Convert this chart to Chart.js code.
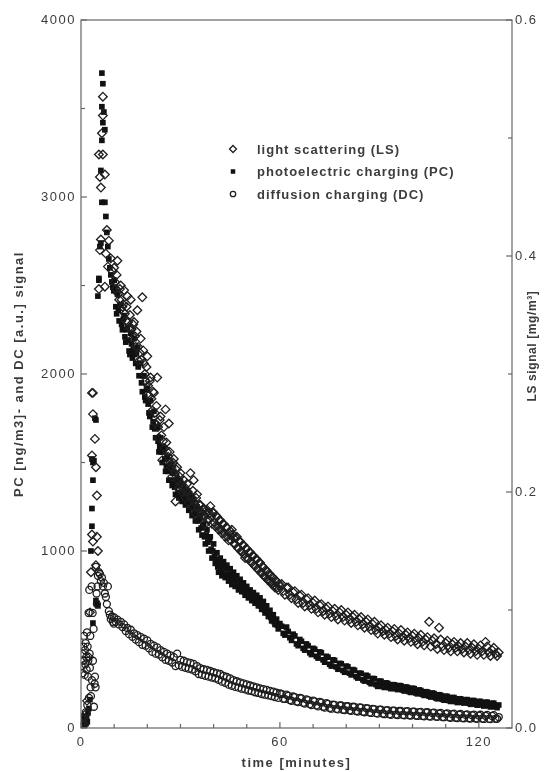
<!DOCTYPE html>
<html>
<head>
<meta charset="utf-8">
<script src="https://cdn.jsdelivr.net/npm/chart.js@4.4.0/dist/chart.umd.min.js"></script>
<style>
  html, body { margin: 0; padding: 0; background: #fff; }
</style>
</head>
<body>
<canvas id="chart" width="544" height="772"></canvas>
<script>
// tick positions and labels
const xTicks = [0, 10, 20, 30, 40, 50, 60, 70, 80, 90, 100, 110, 120];
const xLabels = [0, 60, 120];
const leftTicks = [0, 500, 1000, 1500, 2000, 2500, 3000, 3500, 4000];
const leftLabels = [0, 1000, 2000, 3000, 4000];
const rightTicks = [0, 0.1, 0.2, 0.3, 0.4, 0.5, 0.6];
const rightLabels = [0, 0.2, 0.4, 0.6];

const seriesNames = ['light scattering (LS)', 'photoelectric charging (PC)', 'diffusion charging (DC)'];

// first minutes (peak), read point by point
const pcEarlyTime = [0.1, 0.3, 0.5, 0.7, 0.9, 1.1, 1.3, 1.5, 1.7, 1.9,
  2.1, 2.4, 2.7, 3.0, 3.3, 3.3, 3.6, 3.6, 3.9, 3.3,
  4.2, 4.5, 3.6, 4.8, 5.1, 4.5, 5.1, 5.4, 5.4, 5.7,
  6.0, 6.3, 6.0, 6.3, 6.6, 6.3, 6.6, 6.3, 6.9, 7.2,
  7.2, 7.5, 7.8, 8.1, 8.4, 8.7, 9.0, 9.3, 9.6, 9.9];
const pcEarlyValue = [20, 40, 15, 55, 30, 10, 45, 25, 60, 35,
  85, 110, 160, 1000, 1140, 1240, 1400, 1500, 1510, 1520,
  1750, 1740, 593, 705, 690, 720, 2440, 2540, 2530, 2720,
  2740, 2970, 3150, 3320, 3420, 3510, 3640, 3700, 3480, 3380,
  2970, 2890, 2800, 2720, 2650, 2600, 2560, 2520, 2490, 2470];

const lsEarlyTime = [0.3, 0.6, 1.0, 1.5, 1.8, 2.4, 2.7, 3.0, 3.3, 3.6,
  3.3, 3.6, 3.3, 3.6, 4.2, 4.5, 4.8, 4.8, 4.5, 5.1,
  5.4, 5.7, 6.0, 5.4, 5.7, 6.0, 6.6, 6.3, 6.6, 6.6,
  7.2, 7.8, 7.5, 8.1, 7.2, 8.4, 9.0, 9.6];
const lsEarlyValue = [0.005, 0.009, 0.003, 0.012, 0.023, 0.060, 0.098, 0.132, 0.164, 0.158,
  0.231, 0.266, 0.284, 0.284, 0.245, 0.221, 0.197, 0.162, 0.138, 0.150,
  0.372, 0.405, 0.414, 0.486, 0.467, 0.458, 0.486, 0.504, 0.519, 0.535,
  0.469, 0.422, 0.402, 0.391, 0.374, 0.413, 0.398, 0.387];

const dcEarlyTime = [0.1, 0.2, 0.3, 0.4, 0.5, 0.6, 0.7, 0.8, 0.9, 1.0,
  1.1, 1.2, 1.3, 1.4, 1.5, 1.6, 1.7, 1.8, 1.9, 2.0,
  2.1, 2.2, 2.3, 2.4, 2.5, 2.6, 2.7, 2.8, 2.9, 3.0,
  3.2, 3.3, 3.5, 3.6, 3.8, 3.9, 4.1, 4.2, 4.4, 4.5,
  4.7, 4.8, 5.0, 5.1, 5.4, 5.7, 6.0, 6.3, 6.6, 6.9,
  7.2, 7.5, 7.8, 8.1, 8.4, 8.7, 9.0, 9.3, 9.6, 9.9];
const dcEarlyValue = [20, 350, 50, 420, 310, 30, 460, 380, 520, 60,
  300, 440, 360, 480, 90, 400, 330, 540, 130, 460,
  290, 380, 650, 170, 780, 420, 340, 520, 230, 180,
  800, 270, 650, 380, 560, 120, 250, 290, 230, 910,
  760, 700, 800, 860, 880, 870, 830, 850, 800, 820,
  760, 740, 700, 800, 660, 640, 615, 630, 600, 590];

// decay part, minutes (shared by the three series)
const mainTime = [10, 10.5, 11, 11.5, 12, 12.5, 13, 13.5, 14, 14.5,
  15, 15.5, 16, 16.5, 17, 17.5, 18, 18.5, 19, 19.5,
  20, 20.5, 21, 21.5, 22, 22.5, 23, 23.5, 24, 24.5,
  25, 25.5, 26, 26.5, 27, 27.5, 28, 28.5, 29, 29.5,
  30, 30.5, 31, 31.5, 32, 32.5, 33, 33.5, 34, 34.5,
  35, 35.5, 36, 36.5, 37, 37.5, 38, 38.5, 39, 39.5,
  40, 40.5, 41, 41.5, 42, 42.5, 43, 43.5, 44, 44.5,
  45, 45.5, 46, 46.5, 47, 47.5, 48, 48.5, 49, 49.5,
  50, 50.5, 51, 51.5, 52, 52.5, 53, 53.5, 54, 54.5,
  55, 55.5, 56, 56.5, 57, 57.5, 58, 58.5, 59, 59.5, 60,
  61, 62, 63, 64, 65, 66, 67, 68, 69, 70,
  71, 72, 73, 74, 75, 76, 77, 78, 79, 80,
  81, 82, 83, 84, 85, 86, 87, 88, 89, 90,
  91, 92, 93, 94, 95, 96, 97, 98, 99, 100,
  101, 102, 103, 104, 105, 106, 107, 108, 109, 110,
  111, 112, 113, 114, 115, 116, 117, 118, 119, 120,
  121, 122, 123, 124, 125, 126];

// PC [ng/m3], left axis
const pcValue = [2530, 2380, 2450, 2300, 2390, 2250, 2330, 2180, 2260, 2130,
  2230, 2090, 2200, 2060, 2150, 1990, 2060, 1900, 1990, 1850,
  1920, 1780, 1850, 1700, 1790, 1640, 1700, 1560, 1640, 1500,
  1580, 1450, 1530, 1400, 1490, 1370, 1450, 1320, 1410, 1300,
  1390, 1280, 1360, 1260, 1340, 1230, 1310, 1200, 1290, 1170,
  1250, 1120, 1200, 1090, 1150, 1040, 1120, 1000, 1080, 960,
  1040, 930, 990, 880, 960, 860, 940, 850, 920, 830,
  900, 810, 880, 800, 860, 780, 840, 770, 820, 750,
  800, 735, 780, 720, 765, 705, 750, 690, 735, 670,
  715, 650, 690, 630, 665, 605, 640, 585, 615, 560, 590,
  535, 570, 510, 530, 475, 500, 450, 475, 425, 450,
  405, 430, 385, 405, 360, 385, 345, 365, 325, 350,
  310, 330, 290, 310, 272, 298, 258, 280, 245, 265,
  235, 255, 228, 245, 222, 240, 215, 232, 205, 225,
  198, 215, 190, 205, 180, 198, 170, 188, 162, 180,
  155, 172, 150, 165, 145, 160, 140, 155, 135, 150,
  130, 145, 125, 140, 120, 130];

// LS [mg/m3], right axis
const lsValue = [0.390, 0.372, 0.396, 0.363, 0.375, 0.357, 0.371, 0.345, 0.366, 0.339,
  0.363, 0.330, 0.344, 0.323, 0.354, 0.311, 0.330, 0.365, 0.309, 0.294,
  0.315, 0.282, 0.297, 0.269, 0.284, 0.258, 0.297, 0.246, 0.264, 0.227,
  0.255, 0.270, 0.234, 0.258, 0.225, 0.213, 0.228, 0.192, 0.221, 0.203,
  0.216, 0.200, 0.210, 0.195, 0.207, 0.191, 0.216, 0.188, 0.210, 0.182,
  0.198, 0.177, 0.189, 0.180, 0.186, 0.173, 0.185, 0.176, 0.188, 0.173,
  0.182, 0.171, 0.179, 0.168, 0.176, 0.165, 0.173, 0.162, 0.170, 0.159,
  0.167, 0.168, 0.161, 0.156, 0.162, 0.152, 0.158, 0.149, 0.155, 0.144,
  0.152, 0.143, 0.149, 0.140, 0.146, 0.137, 0.143, 0.134, 0.140, 0.131,
  0.136, 0.128, 0.133, 0.125, 0.129, 0.122, 0.127, 0.119, 0.124, 0.117, 0.120,
  0.116, 0.119, 0.113, 0.115, 0.109, 0.112, 0.106, 0.109, 0.104, 0.106,
  0.101, 0.104, 0.099, 0.101, 0.097, 0.099, 0.095, 0.098, 0.094, 0.096,
  0.092, 0.094, 0.090, 0.092, 0.088, 0.090, 0.086, 0.088, 0.083, 0.085,
  0.082, 0.083, 0.080, 0.082, 0.078, 0.080, 0.077, 0.079, 0.076, 0.078,
  0.074, 0.076, 0.073, 0.075, 0.090, 0.074, 0.071, 0.085, 0.069, 0.072,
  0.068, 0.071, 0.068, 0.069, 0.067, 0.069, 0.066, 0.068, 0.065, 0.067,
  0.065, 0.073, 0.064, 0.066, 0.063, 0.064];

// DC [a.u.], left axis
const dcValue = [625, 600, 612, 585, 600, 570, 585, 548, 565, 530,
  555, 515, 535, 500, 525, 485, 515, 470, 505, 465,
  495, 450, 475, 430, 465, 420, 455, 415, 440, 400,
  430, 385, 420, 380, 410, 370, 400, 350, 420, 355,
  385, 345, 380, 340, 372, 335, 368, 330, 362, 320,
  350, 305, 338, 300, 332, 295, 328, 290, 322, 285,
  315, 280, 310, 272, 305, 262, 295, 255, 288, 245,
  280, 238, 270, 232, 264, 228, 258, 222, 252, 218,
  246, 212, 240, 208, 235, 202, 230, 198, 224, 192,
  220, 188, 215, 184, 210, 180, 205, 175, 200, 170, 195,
  165, 188, 158, 178, 150, 170, 142, 162, 135, 155,
  128, 148, 120, 140, 113, 132, 108, 128, 103, 124,
  100, 120, 96, 116, 92, 112, 88, 108, 84, 104,
  82, 100, 78, 98, 76, 96, 74, 94, 72, 92,
  70, 90, 68, 88, 66, 85, 64, 82, 62, 80,
  60, 78, 58, 76, 56, 74, 55, 72, 54, 70,
  53, 69, 52, 68, 52, 62];

// in-between readings, 10-60 min (PC and LS only)
const midTime = [10.25, 10.75, 11.25, 11.75, 12.25, 12.75, 13.25, 13.75, 14.25, 14.75,
  15.25, 15.75, 16.25, 16.75, 17.25, 17.75, 18.25, 18.75, 19.25, 19.75,
  20.25, 20.75, 21.25, 21.75, 22.25, 22.75, 23.25, 23.75, 24.25, 24.75,
  25.25, 25.75, 26.25, 26.75, 27.25, 27.75, 28.25, 28.75, 29.25, 29.75,
  30.25, 30.75, 31.25, 31.75, 32.25, 32.75, 33.25, 33.75, 34.25, 34.75,
  35.25, 35.75, 36.25, 36.75, 37.25, 37.75, 38.25, 38.75, 39.25, 39.75,
  40.25, 40.75, 41.25, 41.75, 42.25, 42.75, 43.25, 43.75, 44.25, 44.75,
  45.25, 45.75, 46.25, 46.75, 47.25, 47.75, 48.25, 48.75, 49.25, 49.75,
  50.25, 50.75, 51.25, 51.75, 52.25, 52.75, 53.25, 53.75, 54.25, 54.75,
  55.25, 55.75, 56.25, 56.75, 57.25, 57.75, 58.25, 58.75, 59.25, 59.75];
const pcMidValue = [2480, 2340, 2360, 2390, 2280, 2310, 2210, 2250, 2190, 2110,
  2170, 2140, 2110, 2120, 2040, 2060, 1950, 1990, 1870, 1910,
  1830, 1760, 1770, 1730, 1690, 1700, 1620, 1590, 1560, 1560,
  1520, 1480, 1450, 1470, 1400, 1440, 1360, 1390, 1330, 1370,
  1320, 1330, 1290, 1310, 1270, 1280, 1240, 1260, 1210, 1220,
  1170, 1180, 1130, 1140, 1080, 1090, 1050, 1060, 1010, 1000,
  970, 950, 910, 940, 890, 920, 870, 900, 860, 870,
  840, 850, 830, 830, 810, 820, 790, 810, 770, 790,
  760, 765, 740, 750, 720, 740, 705, 720, 690, 700,
  670, 680, 650, 655, 625, 630, 600, 610, 580, 575];
const lsMidValue = [0.378, 0.384, 0.368, 0.372, 0.363, 0.359, 0.351, 0.357, 0.344, 0.350,
  0.338, 0.342, 0.332, 0.336, 0.323, 0.318, 0.312, 0.320, 0.300, 0.306,
  0.290, 0.294, 0.279, 0.285, 0.267, 0.273, 0.255, 0.261, 0.248, 0.243,
  0.237, 0.242, 0.230, 0.234, 0.221, 0.225, 0.215, 0.219, 0.210, 0.213,
  0.207, 0.203, 0.204, 0.200, 0.200, 0.197, 0.195, 0.201, 0.191, 0.195,
  0.186, 0.189, 0.182, 0.185, 0.179, 0.182, 0.177, 0.182, 0.179, 0.183,
  0.174, 0.180, 0.171, 0.176, 0.168, 0.173, 0.165, 0.170, 0.162, 0.165,
  0.159, 0.164, 0.156, 0.161, 0.153, 0.158, 0.150, 0.155, 0.147, 0.152,
  0.144, 0.149, 0.141, 0.146, 0.138, 0.143, 0.135, 0.140, 0.132, 0.137,
  0.129, 0.134, 0.126, 0.131, 0.124, 0.128, 0.121, 0.125, 0.119, 0.122];

// in-between readings, 60-126 min
const lateTime = [60.5, 61.5, 62.5, 63.5, 64.5, 65.5, 66.5, 67.5, 68.5, 69.5,
  70.5, 71.5, 72.5, 73.5, 74.5, 75.5, 76.5, 77.5, 78.5, 79.5,
  80.5, 81.5, 82.5, 83.5, 84.5, 85.5, 86.5, 87.5, 88.5, 89.5,
  90.5, 91.5, 92.5, 93.5, 94.5, 95.5, 96.5, 97.5, 98.5, 99.5,
  100.5, 101.5, 102.5, 103.5, 104.5, 105.5, 106.5, 107.5, 108.5, 109.5,
  110.5, 111.5, 112.5, 113.5, 114.5, 115.5, 116.5, 117.5, 118.5, 119.5,
  120.5, 121.5, 122.5, 123.5, 124.5, 125.5];
const pcLateValue = [575, 525, 545, 495, 520, 465, 490, 440, 465, 415,
  445, 395, 425, 372, 400, 350, 382, 332, 363, 315,
  346, 300, 326, 282, 308, 265, 293, 250, 278, 235,
  264, 229, 252, 222, 244, 217, 238, 209, 229, 201,
  222, 193, 212, 184, 203, 175, 194, 165, 185, 157,
  178, 150, 172, 144, 165, 141, 160, 134, 155, 129,
  150, 124, 146, 119, 140, 115];
const lsLateValue = [0.122, 0.113, 0.119, 0.110, 0.116, 0.106, 0.113, 0.103, 0.110, 0.101,
  0.108, 0.098, 0.105, 0.096, 0.103, 0.094, 0.101, 0.092, 0.100, 0.091,
  0.098, 0.089, 0.096, 0.087, 0.094, 0.085, 0.092, 0.083, 0.090, 0.080,
  0.087, 0.079, 0.085, 0.077, 0.084, 0.075, 0.083, 0.074, 0.081, 0.073,
  0.080, 0.071, 0.079, 0.070, 0.077, 0.069, 0.076, 0.067, 0.075, 0.066,
  0.074, 0.065, 0.073, 0.065, 0.072, 0.064, 0.072, 0.063, 0.071, 0.062,
  0.070, 0.062, 0.069, 0.061, 0.068, 0.061];
const dcLateValue = [192, 164, 182, 154, 174, 146, 167, 138, 158, 130,
  150, 122, 143, 115, 136, 109, 131, 105, 127, 101,
  123, 97, 119, 93, 115, 89, 111, 85, 107, 81,
  104, 78, 101, 75, 98, 73, 96, 72, 95, 70,
  93, 68, 91, 66, 89, 64, 87, 63, 85, 61,
  83, 58, 81, 56, 79, 55, 77, 53, 76, 52,
  75, 51, 74, 50, 73, 52];

function points(times, values) {
  return times.map((t, i) => ({ x: t, y: values[i] }));
}

const FONT = "'Liberation Sans', Arial, sans-serif";
const TEXT = '#3c3c3c';
const INK = '#1e1e1e';

const lsData = points(lsEarlyTime, lsEarlyValue).concat(
  points(mainTime, lsValue), points(midTime, lsMidValue), points(lateTime, lsLateValue));
const pcData = points(pcEarlyTime, pcEarlyValue).concat(
  points(mainTime, pcValue), points(midTime, pcMidValue), points(lateTime, pcLateValue));
const dcData = points(dcEarlyTime, dcEarlyValue).concat(
  points(mainTime, dcValue), points(lateTime, dcLateValue));

// frame with inward ticks, right title, and the legend inside the plot
const frameAndLegend = {
  id: 'frameAndLegend',
  beforeDraw(chart) {
    chart.ctx.letterSpacing = '1.5px';
  },
  afterDraw(chart) {
    const ctx = chart.ctx;
    const a = chart.chartArea;
    ctx.save();
    ctx.letterSpacing = '0px';
    ctx.strokeStyle = '#666';
    ctx.lineWidth = 1.2;
    ctx.strokeRect(a.left, a.top, a.right - a.left, a.bottom - a.top);

    const tick = (scale, labelled, side) => {
      scale.ticks.forEach(t => {
        const p = scale.getPixelForValue(t.value);
        const len = labelled.includes(t.value) ? 6 : 4;
        ctx.beginPath();
        if (side === 'bottom') { ctx.moveTo(p, a.bottom); ctx.lineTo(p, a.bottom - len); }
        else if (side === 'left') { ctx.moveTo(a.left, p); ctx.lineTo(a.left + len, p); }
        else { ctx.moveTo(a.right, p); ctx.lineTo(a.right - len, p); }
        ctx.stroke();
      });
    };
    tick(chart.scales.x, xLabels, 'bottom');
    tick(chart.scales.y, leftLabels, 'left');
    tick(chart.scales.y1, rightLabels, 'right');

    // right axis title reads bottom to top, like the left one
    ctx.save();
    ctx.translate(533, 346);
    ctx.rotate(-Math.PI / 2);
    ctx.font = 'bold 12px ' + FONT;
    ctx.letterSpacing = '0.6px';
    ctx.fillStyle = TEXT;
    ctx.textAlign = 'center';
    ctx.textBaseline = 'middle';
    ctx.fillText('LS signal [mg/m³]', 0, 0);
    ctx.restore();

    // legend
    const order = [1, 2, 0]; // LS, PC, DC datasets
    ctx.font = 'bold 13px ' + FONT;
    ctx.letterSpacing = '1px';
    ctx.textBaseline = 'middle';
    order.forEach((di, i) => {
      const ds = chart.data.datasets[di];
      const y = 149 + i * 22.5;
      ctx.fillStyle = ds.backgroundColor;
      ctx.strokeStyle = ds.borderColor;
      ctx.lineWidth = ds.borderWidth;
      Chart.helpers.drawPoint(ctx, { pointStyle: ds.pointStyle, radius: ds.pointRadius - 0.8, rotation: 0, borderWidth: ds.borderWidth }, 233, y);
      ctx.fillStyle = TEXT;
      ctx.fillText(seriesNames[i], 257, y + 1);
    });
    ctx.restore();
  }
};

new Chart(document.getElementById('chart'), {
  type: 'scatter',
  data: {
    datasets: [
      {
        label: 'diffusion charging (DC)',
        data: dcData,
        yAxisID: 'y',
        pointStyle: 'circle',
        pointRadius: 3.5,
        borderWidth: 1.3,
        borderColor: INK,
        backgroundColor: 'rgba(255,255,255,0)'
      },
      {
        label: 'light scattering (LS)',
        data: lsData,
        yAxisID: 'y1',
        pointStyle: 'rectRot',
        pointRadius: 4.3,
        borderWidth: 1.3,
        borderColor: INK,
        backgroundColor: 'rgba(255,255,255,0)'
      },
      {
        label: 'photoelectric charging (PC)',
        data: pcData,
        yAxisID: 'y',
        pointStyle: 'rect',
        pointRadius: 4.0,
        borderWidth: 0,
        borderColor: '#111',
        backgroundColor: '#111'
      }
    ]
  },
  options: {
    responsive: false,
    animation: false,
    devicePixelRatio: 1,
    events: [],
    layout: { padding: { top: 20, left: 0, right: 0, bottom: 0 } },
    plugins: {
      legend: { display: false },
      tooltip: { enabled: false }
    },
    scales: {
      x: {
        type: 'linear',
        min: 0,
        max: 130,
        afterBuildTicks: s => { s.ticks = xTicks.map(v => ({ value: v })); },
        afterFit: s => { s.height = 44; },
        grid: { display: false, drawTicks: false },
        border: { display: false },
        ticks: {
          autoSkip: false,
          maxRotation: 0,
          padding: 7,
          color: TEXT,
          font: { family: FONT, size: 13 },
          callback: v => xLabels.includes(v) ? String(v) : ''
        },
        title: {
          display: true,
          text: 'time [minutes]',
          color: TEXT,
          font: { family: FONT, size: 13, weight: 'bold' },
          padding: { top: 0, bottom: 1 }
        }
      },
      y: {
        type: 'linear',
        position: 'left',
        min: 0,
        max: 4000,
        afterBuildTicks: s => { s.ticks = leftTicks.map(v => ({ value: v })); },
        afterFit: s => { s.width = 81; },
        grid: { display: false, drawTicks: false },
        border: { display: false },
        ticks: {
          autoSkip: false,
          padding: 5,
          color: TEXT,
          font: { family: FONT, size: 13 },
          callback: v => leftLabels.includes(v) ? String(v) : ''
        },
        title: {
          display: true,
          text: 'PC [ng/m3]- and DC [a.u.] signal',
          color: TEXT,
          font: { family: FONT, size: 13, weight: 'bold' },
          padding: { top: 12, bottom: 0 }
        }
      },
      y1: {
        type: 'linear',
        position: 'right',
        min: 0,
        max: 0.6,
        afterBuildTicks: s => { s.ticks = rightTicks.map(v => ({ value: v })); },
        afterFit: s => { s.width = 32; },
        grid: { display: false, drawTicks: false },
        border: { display: false },
        ticks: {
          autoSkip: false,
          padding: 3,
          color: TEXT,
          font: { family: FONT, size: 13 },
          callback: v => rightLabels.includes(v) ? v.toFixed(1) : ''
        },
        title: { display: false }
      }
    }
  },
  plugins: [frameAndLegend]
});
</script>
</body>
</html>
